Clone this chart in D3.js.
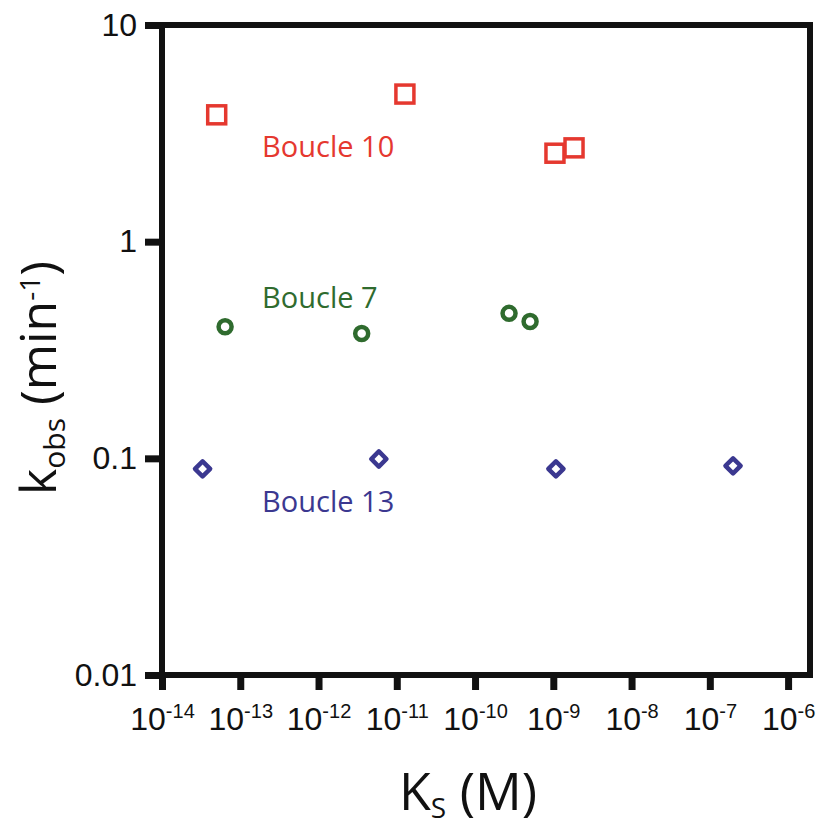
<!DOCTYPE html>
<html>
<head>
<meta charset="utf-8">
<script src="https://cdn.jsdelivr.net/npm/d3@7"></script>
<style>
  body { margin: 0; background: #fff; }
  svg { font-family: "Open Sans", sans-serif; }
</style>
</head>
<body>
<div id="chart"></div>
<script>
// valeurs
const boucle10Ks = [5.0e-14, 1.27e-11, 1.05e-9, 1.84e-9]
const boucle10Kobs = [3.85, 4.8, 2.56, 2.71]

const boucle7Ks = [6.4e-14, 3.56e-12, 2.72e-10, 5.05e-10]
const boucle7Kobs = [0.405, 0.377, 0.467, 0.428]

const boucle13Ks = [3.3e-14, 5.9e-12, 1.08e-9, 1.98e-7]
const boucle13Kobs = [0.0894, 0.0993, 0.0894, 0.0923]

const xTickExps = [-14, -13, -12, -11, -10, -9, -8, -7, -6]
const yTicks = [10, 1, 0.1, 0.01]
const yTickLabels = ['10', '1', '0.1', '0.01']

const width = 834
const height = 826
const margin = { top: 25, right: 24, bottom: 151, left: 162 }

const red = '#e5382f'
const green = '#2f6b2e'
const blue = '#3b3890'

let svg = d3.select('#chart')
    .append('svg')
    .attr('width', width)
    .attr('height', height)

const x = d3.scaleLog()
    .domain([1e-14, Math.pow(10, -5.72)])
    .range([margin.left, width - margin.right])

const y = d3.scaleLog()
    .domain([0.01, 10])
    .range([height - margin.bottom, margin.top])

// axe x
let gx = svg.append('g')
    .attr('transform', `translate(0,${height - margin.bottom})`)
    .call(d3.axisBottom(x)
        .tickValues(xTickExps.map(e => Math.pow(10, e)))
        .tickSize(15)
        .tickSizeOuter(0)
        .tickPadding(17))
gx.select('.domain').remove()
gx.selectAll('.tick line').attr('stroke', '#111').attr('stroke-width', 7)
gx.selectAll('.tick text')
    .attr('font-size', 32)
    .attr('fill', '#111')
    .each(function (d, i) {
        const t = d3.select(this)
        t.text('')
        t.append('tspan').text('10')
        t.append('tspan')
            .attr('dy', -12)
            .attr('font-size', 20)
            .text(xTickExps[i])
    })

// axe y
let gy = svg.append('g')
    .attr('transform', `translate(${margin.left},0)`)
    .call(d3.axisLeft(y)
        .tickValues(yTicks)
        .tickSize(17)
        .tickSizeOuter(0)
        .tickPadding(8)
        .tickFormat((d, i) => yTickLabels[i]))
gy.select('.domain').remove()
gy.selectAll('.tick line').attr('stroke', '#111').attr('stroke-width', 7)
gy.selectAll('.tick text').attr('font-size', 32).attr('fill', '#111')

// cadre
svg.append('rect')
    .attr('x', x.range()[0])
    .attr('y', y.range()[1])
    .attr('width', x.range()[1] - x.range()[0])
    .attr('height', y.range()[0] - y.range()[1])
    .attr('fill', 'none')
    .attr('stroke', '#111')
    .attr('stroke-width', 6)

// titres des axes
let xt = svg.append('text')
    .attr('x', 468)
    .attr('y', 810)
    .attr('text-anchor', 'middle')
    .attr('font-size', 52)
    .attr('fill', '#111')
xt.append('tspan').text('K')
xt.append('tspan').attr('dy', 8).attr('font-size', 28).text('S')
xt.append('tspan').attr('dy', -8).text(' (M)')

let yt = svg.append('text')
    .attr('transform', 'translate(56,378) rotate(-90)')
    .attr('text-anchor', 'middle')
    .attr('font-size', 50)
    .attr('fill', '#111')
yt.append('tspan').text('k')
yt.append('tspan').attr('dy', 9).attr('font-size', 30).text('obs')
yt.append('tspan').attr('dy', -9).text(' (min')
yt.append('tspan').attr('dy', -16).attr('font-size', 28).text('-1')
yt.append('tspan').attr('dy', 16).text(')')

// Boucle 10 : carrés
const sq = 18
svg.append('g')
    .selectAll('rect')
    .data(d3.zip(boucle10Ks, boucle10Kobs))
    .enter()
    .append('rect')
    .attr('x', d => x(d[0]) - sq / 2)
    .attr('y', d => y(d[1]) - sq / 2)
    .attr('width', sq)
    .attr('height', sq)
    .attr('fill', '#fff')
    .attr('stroke', red)
    .attr('stroke-width', 3.5)

// Boucle 7 : cercles
svg.append('g')
    .selectAll('circle')
    .data(d3.zip(boucle7Ks, boucle7Kobs))
    .enter()
    .append('circle')
    .attr('cx', d => x(d[0]))
    .attr('cy', d => y(d[1]))
    .attr('r', 6.5)
    .attr('fill', '#fff')
    .attr('stroke', green)
    .attr('stroke-width', 4.5)

// Boucle 13 : losanges
const diamond = d3.symbol().type(d3.symbolSquare).size(115)
svg.append('g')
    .selectAll('path')
    .data(d3.zip(boucle13Ks, boucle13Kobs))
    .enter()
    .append('path')
    .attr('d', diamond)
    .attr('transform', d => `translate(${x(d[0])},${y(d[1])}) rotate(45)`)
    .attr('fill', '#fff')
    .attr('stroke', blue)
    .attr('stroke-width', 4.5)
    .attr('stroke-linejoin', 'round')

// étiquettes
const labels = [
    { text: 'Boucle 10', color: red, ks: 1.9e-13, kobs: 2.46 },
    { text: 'Boucle 7', color: green, ks: 1.9e-13, kobs: 0.494 },
    { text: 'Boucle 13', color: blue, ks: 1.9e-13, kobs: 0.0566 }
]
svg.append('g')
    .selectAll('text')
    .data(labels)
    .enter()
    .append('text')
    .attr('x', d => x(d.ks))
    .attr('y', d => y(d.kobs))
    .attr('font-size', 29)
    .attr('fill', d => d.color)
    .text(d => d.text)
</script>
</body>
</html>
